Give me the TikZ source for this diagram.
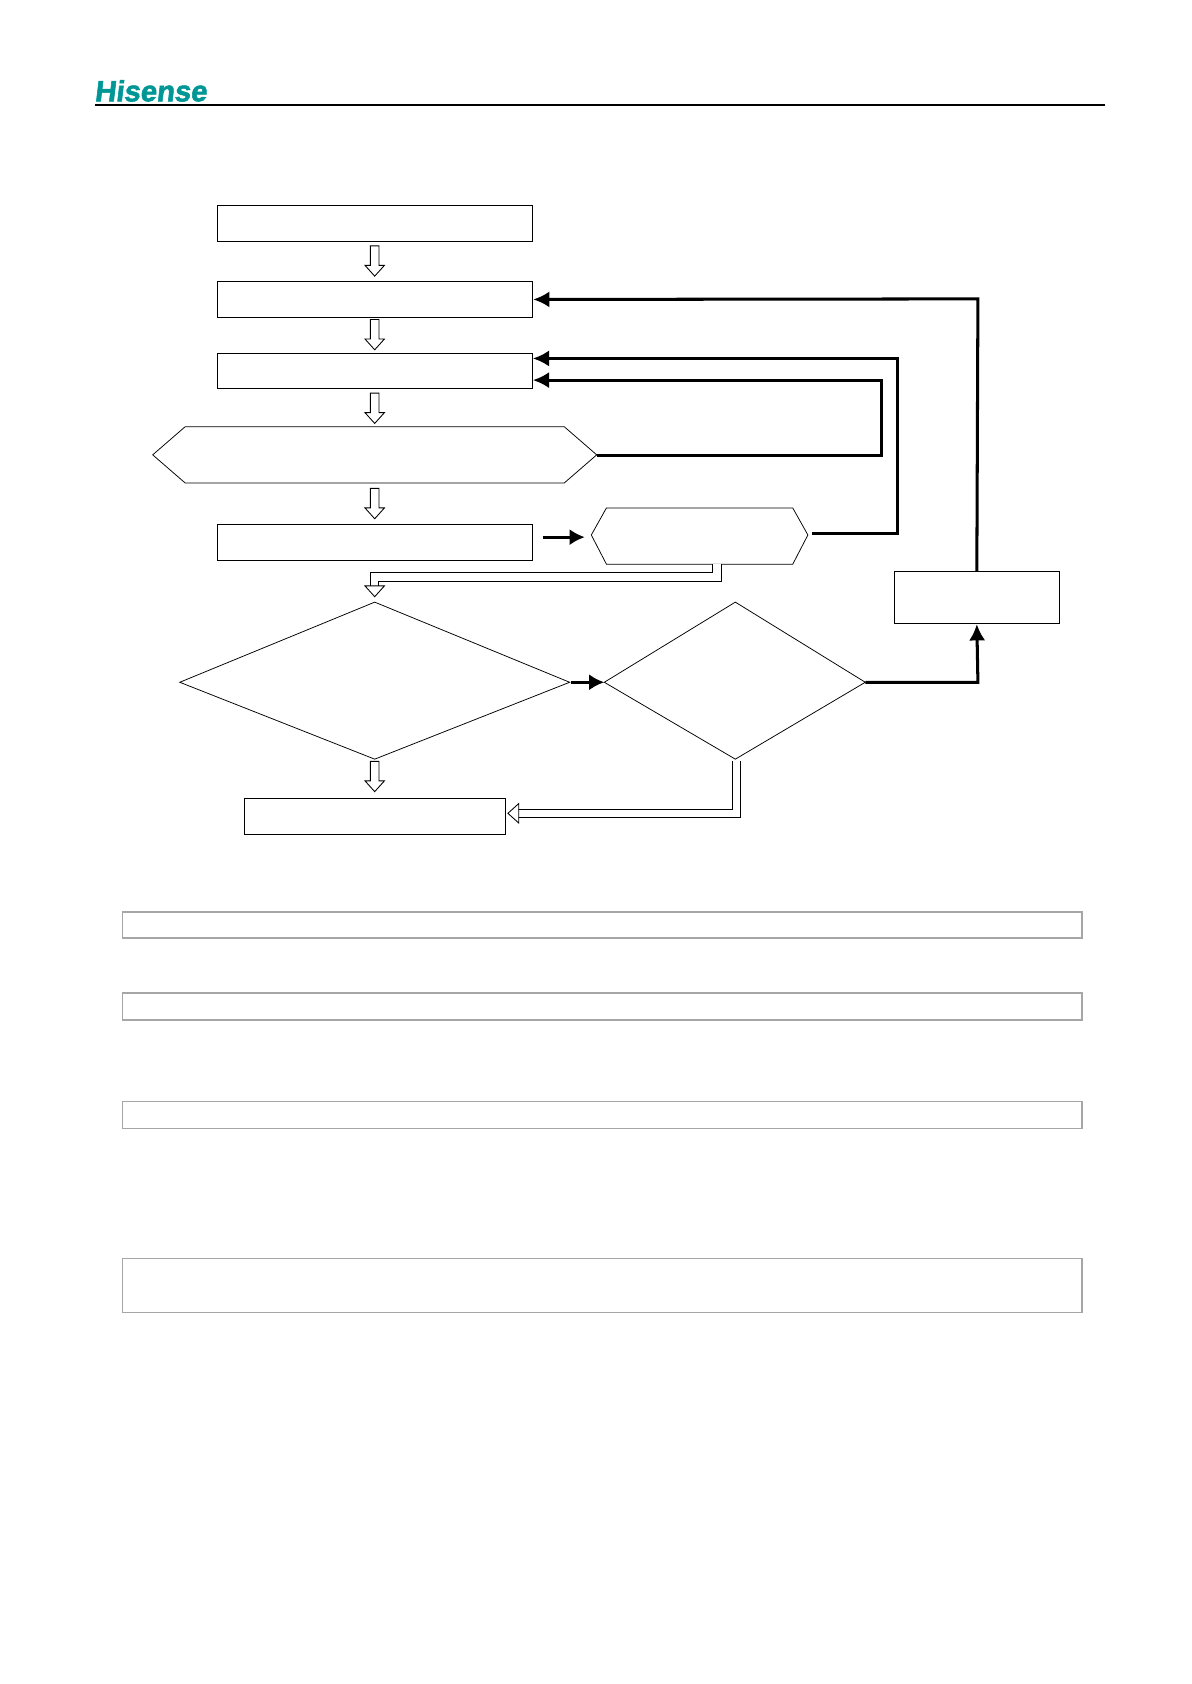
\documentclass[tikz,border=0pt]{standalone}
\usepackage{fontspec}
\setmainfont{Liberation Sans}
\newfontfamily\logofont[FakeBold=2,FakeSlant=0.12]{Liberation Sans Bold}
\usetikzlibrary{arrows.meta}
\begin{document}
\begin{tikzpicture}[x=1pt,y=-1pt,
  bx/.style={draw, line width=0.7pt, minimum width=291pt, minimum height=33pt, inner sep=0pt},
  gb/.style={draw=black!35, line width=1.6pt},
  bl/.style={line width=2.8pt, line cap=butt},
  hol/.style={draw, line width=0.8pt, fill=white},
  dbl/.style={draw, line width=0.9pt, double=white, double distance=7pt}]
\useasboundingbox (0,0) rectangle (1100,1555);
\definecolor{teal}{RGB}{0,150,150}
\node[anchor=south west, inner sep=0pt, text=teal, font=\fontsize{27}{27}\logofont] (logo) at (87,94) {Hisense};
\draw[line width=1.5pt] (88,97) -- (1020,97);
% boxes
\node[bx] (b1) at (346.5,206.5) {};
\node[bx] (b2) at (346.5,276.5) {};
\node[bx] (b3) at (346.5,342.5) {};
\node[bx] (b4) at (346.5,500.5) {};
\node[bx, minimum width=241pt] (b6) at (346.5,753.5) {};
\node[bx, minimum width=152pt, minimum height=48pt] (b5) at (902,552) {};
% hexagons & diamonds
\coordinate (h1r) at (551,421);
\draw[line width=0.7pt] (141,420)--(171,394)--(521,394)--(551,420)--(521,446)--(171,446)--cycle;
\coordinate (h2r) at (750,493);
\draw[line width=0.7pt] (546,494)--(560,469)--(732,469)--(746,494)--(732,521)--(560,521)--cycle;
\draw[line width=0.7pt] (166,630)--(346,556)--(526,630)--(346,701)--cycle;
\draw[line width=0.7pt] (558,630)--(679,556)--(799,630)--(679,701)--cycle;
% hollow vertical arrows
\foreach \a/\b in {227/255,295/323,363/391,451/479,703/731}{
  \draw[hol] (342,\a)--(350,\a)--(350,\b-10)--(355,\b-10)--(346,\b)--(337,\b-10)--(342,\b-10)--cycle;}
% bent hollow arrows
\draw[dbl] (662,521)--(662,533)--(346,533)--(346,543);
\draw[hol] (337,541)--(355,541)--(346,551)--cycle;
\draw[dbl] (680,703)--(680,751)--(478,751);
\draw[hol] (479,742)--(479,760)--(469,751)--cycle;
% black connectors
\coordinate (t1) at (492,351);
\coordinate (t2) at (492,331);
\draw[bl,-{Latex[length=15pt,width=15pt]}] (h1r)--(814,421)--(814,351)--(t1);
\draw[bl,-{Latex[length=15pt,width=15pt]}] (h2r)--(829,493)--(829,331)--(t2);
\draw[bl,-{Latex[length=15pt,width=15pt]}] (b5.north)--(903,276)--(b2.east);
\draw[bl,-{Latex[length=15pt,width=15pt]}] (799,630)--(903,630)--(b5.south);
\draw[bl,-{Latex[length=14pt,width=15pt]}] (501,496)--(540,496);
\draw[bl,-{Latex[length=14pt,width=15pt]}] (527,630)--(558,630);
% grey boxes
\draw[gb] (113,842) rectangle (999,866);
\draw[gb] (113,917) rectangle (999,942);
\draw[gb] (113,1017) rectangle (999,1042);
\draw[gb] (113,1162) rectangle (999,1212);
\end{tikzpicture}
\end{document}
